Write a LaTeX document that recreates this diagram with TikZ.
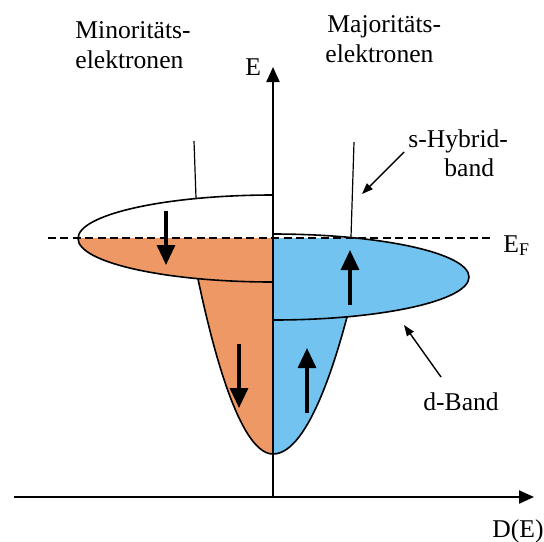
\documentclass[tikz,border=0pt]{standalone}
\usepackage{fontspec}
\setmainfont{Liberation Serif}
\usetikzlibrary{arrows.meta}
\definecolor{minorange}{RGB}{238,152,102}
\definecolor{majblue}{RGB}{114,195,239}

\begin{document}
\begin{tikzpicture}[x=0.5pt, y=-0.5pt,
    lbl/.style={anchor=base west, inner sep=0pt, font=\fontsize{12.8}{15}\selectfont},
    outline/.style={line width=0.8pt},
    sline/.style={line width=0.6pt},
    spin/.style={line width=1.6pt, -{Triangle[length=10pt,width=9pt]}},
    pointer/.style={line width=0.7pt, -{Triangle[length=5.5pt,width=4pt]}},
    axis/.style={line width=1.1pt, -{Triangle[length=7.5pt,width=6.5pt]}}]
\useasboundingbox (0,0) rectangle (544,541);

% occupied states below E_F
\begin{scope}
  \clip (0,238.5) rectangle (273,541);
  \fill[minorange] (273,238.5) ellipse[x radius=195, y radius=43.5];
\end{scope}
\begin{scope}
  \clip (273,238) rectangle (544,541);
  \fill[majblue] (273,277) ellipse[x radius=196, y radius=43];
\end{scope}
\fill[minorange] (273,454) parabola (198,279) -- (273,279) -- cycle;
\fill[majblue] (273,454) parabola (347,317) -- (273,317) -- cycle;

% band outlines
\draw[outline] (273,195) arc[start angle=270, end angle=90, x radius=195, y radius=43.5];
\draw[outline] (273,234) arc[start angle=-90, end angle=90, x radius=196, y radius=43];
\draw[outline] (273,454) parabola (198,279);
\draw[outline] (273,454) parabola (347,317);

% s-band
\coordinate (sleft) at (196,198);
\coordinate (sright) at (351,237);
\draw[sline] (194,141) -- (sleft);
\draw[sline] (354,142) -- (sright);

% labels
\node[lbl] (min1) at (75,38) {Minoritäts-};
\node[lbl] (min2) at (75,68) {elektronen};
\node[lbl] (maj1) at (327,32) {Majoritäts-};
\node[lbl] (maj2) at (325,62) {elektronen};
\node[lbl] (elab) at (245,75) {E};
\node[lbl] (shyb) at (408,147) {s-Hybrid-};
\node[lbl] (sband) at (444,176) {band};
\node[lbl] (ef) at (503,252) {E\textsubscript{F}};
\node[lbl] (dband) at (423,410) {d-Band};
\node[lbl] (dos) at (492,537) {D(E)};

% Fermi level
\coordinate (efl) at (48,238);
\coordinate (efr) at (490,238);
\draw[line width=0.8pt, dash pattern=on 4pt off 2.2pt] (efl) -- (efr);

% axes
\coordinate (origin) at (273,497);
\draw[axis] (14,497) -- (534,497);
\draw[axis] (origin) -- (273,67);

% spins
\draw[spin] (166,211) -- (166,265);
\draw[spin] (350,305) -- (350,250);
\draw[spin] (239,344) -- (239,408);
\draw[spin] (307,413) -- (307,348);

% pointers
\coordinate (shead) at (362,194);
\coordinate (dhead) at (404,325);
\draw[pointer] (404,152) -- (shead);
\draw[pointer] (441,377) -- (dhead);
\end{tikzpicture}
\end{document}
